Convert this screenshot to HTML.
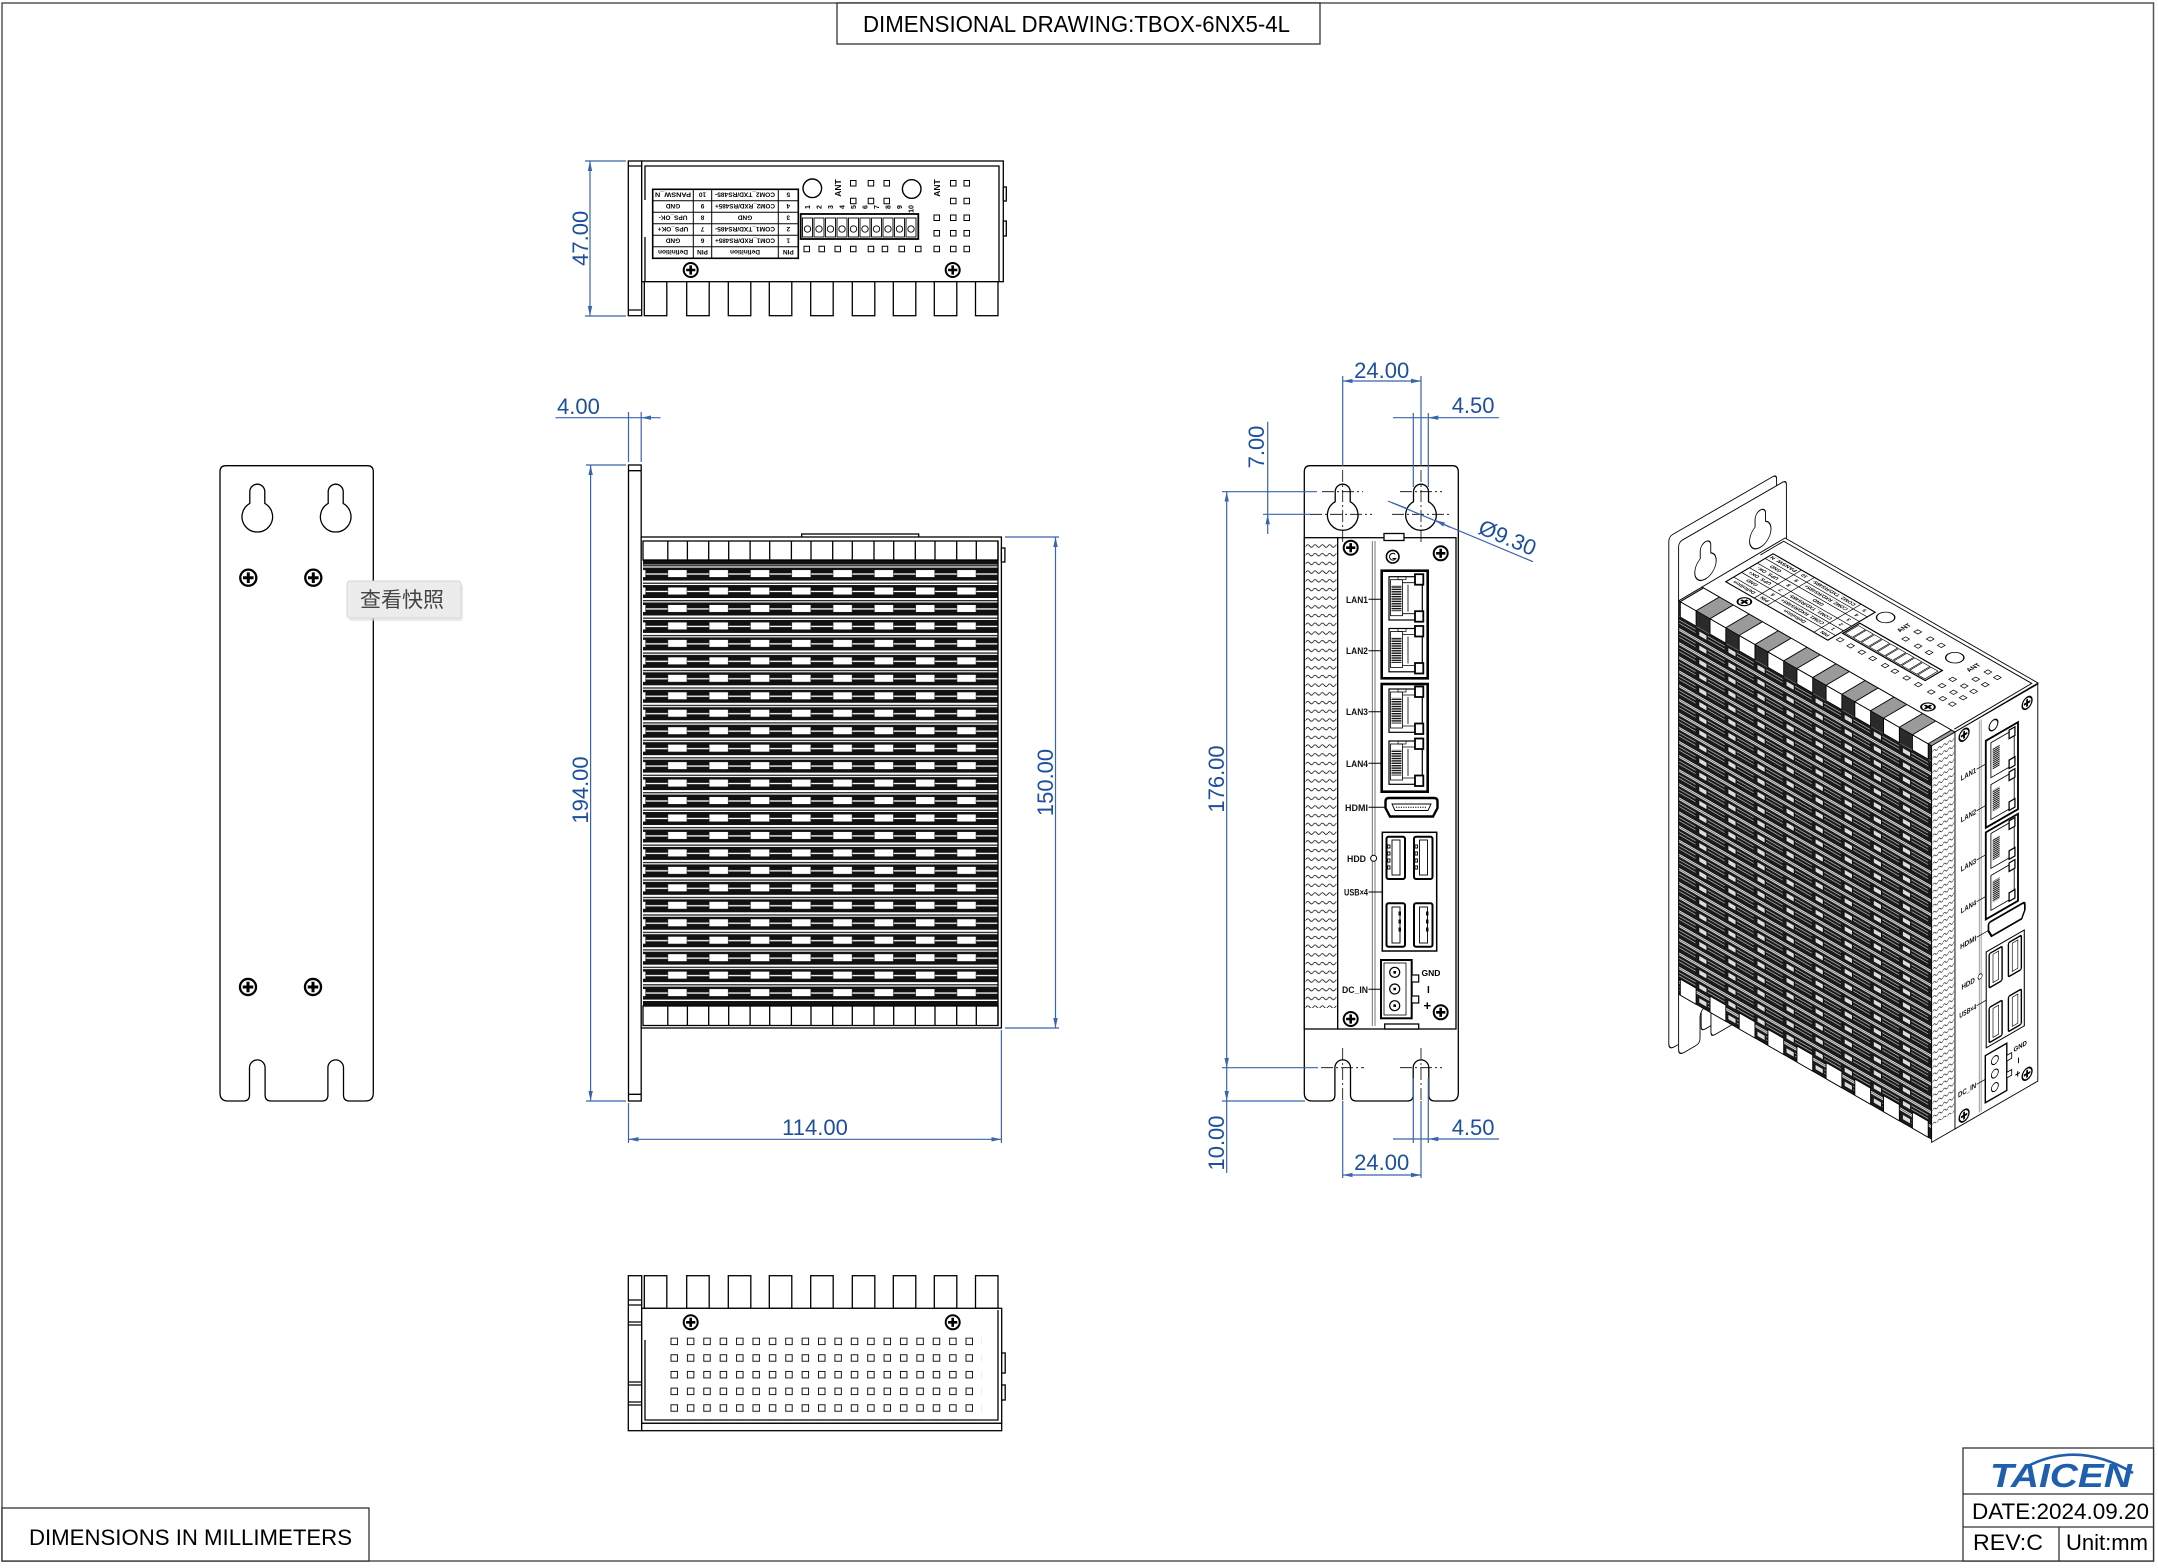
<!DOCTYPE html>
<html><head><meta charset="utf-8"><style>
html,body{margin:0;padding:0;background:#fff;}
svg{display:block;font-family:"Liberation Sans",Arial,sans-serif;}
.k{fill:none;stroke:#000;stroke-width:1.3}
.w{fill:#fff;stroke:#000;stroke-width:1.3}
.b{fill:none;stroke:#3a64ad;stroke-width:1.2}
.bt{fill:#1d4f9b;font-size:22px}
.cl{fill:none;stroke:#000;stroke-width:0.8;stroke-dasharray:12 3 2 3}
.lb{font-size:9.5px;font-weight:bold;fill:#111;text-anchor:end}
.tt{font-size:6.5px;font-weight:bold;fill:#000;text-anchor:middle}
</style></head><body>
<svg width="2158" height="1568" viewBox="0 0 2158 1568" xmlns="http://www.w3.org/2000/svg">
<defs>
<marker id="ar" viewBox="0 0 10 6" refX="10" refY="3" markerWidth="10" markerHeight="6" markerUnits="userSpaceOnUse" orient="auto-start-reverse"><path d="M0,0.8 L10,3 L0,5.2z" fill="#3a64ad"/></marker>
<g id="scr"><circle r="7" fill="#fff" stroke="#000" stroke-width="2"/><path d="M-1.3,-4.6h2.6v3.3h3.3v2.6h-3.3v3.3h-2.6v-3.3h-3.3v-2.6h3.3z" fill="#000"/></g>
<pattern id="rows" patternUnits="userSpaceOnUse" x="647.8" y="564.57" width="41.3" height="17.46">
<rect width="41.3" height="17.46" fill="#fff"/>
<rect y="0.6" width="41.3" height="1.2" fill="#111"/>
<rect y="3" width="41.3" height="13" fill="#111"/>
<rect y="8.8" width="41.3" height="1.3" fill="#fff"/>
<rect x="20" y="5.2" width="19.2" height="7.6" fill="#fff" stroke="#111" stroke-width="0.5"/>
</pattern>
<pattern id="wave" patternUnits="userSpaceOnUse" x="1306" y="543" width="7.3" height="8.7">
<path d="M0,3 q1.8,-2.6 3.65,0 t3.65,0" fill="none" stroke="#000" stroke-width="0.8"/>
</pattern>
<pattern id="hs" patternUnits="userSpaceOnUse" x="0" y="0" width="10" height="2.4">
<rect width="10" height="1.4" fill="#111"/>
</pattern>
<pattern id="sq" patternUnits="userSpaceOnUse" x="670.5" y="1337.6" width="16.39" height="16.67">
<rect x="0.5" y="0.5" width="6.5" height="6.5" fill="none" stroke="#000" stroke-width="0.9"/>
</pattern>
<pattern id="isoFin" patternUnits="userSpaceOnUse" x="642" y="560" width="41.5" height="17.46">
<rect width="41.5" height="17.46" fill="#fff"/>
<rect y="0.3" width="41.5" height="14.2" fill="#1a1a1a"/>
<rect y="4" width="24" height="0.7" fill="#fff"/>
<rect y="8" width="24" height="0.7" fill="#fff"/>
<rect x="29" y="4" width="11" height="6" fill="#ddd" stroke="#000" stroke-width="0.6"/>
<rect y="15.6" width="41.5" height="0.9" fill="#333"/>
</pattern>
</defs>

<rect x="0" y="0" width="2158" height="1568" fill="#fff"/>
<!-- page border -->
<rect x="2" y="3" width="2151.5" height="1558" fill="none" stroke="#555" stroke-width="1.5"/>

<!-- title -->
<rect x="837" y="3" width="483" height="41" fill="#fff" stroke="#333" stroke-width="1.3"/>
<text x="863" y="32" font-size="23" fill="#000" textLength="427" lengthAdjust="spacingAndGlyphs">DIMENSIONAL DRAWING:TBOX-6NX5-4L</text>

<!-- bottom-left box -->
<rect x="2" y="1508" width="367" height="53" fill="#fff" stroke="#333" stroke-width="1.3"/>
<text x="29" y="1545" font-size="22" fill="#000" textLength="323" lengthAdjust="spacingAndGlyphs">DIMENSIONS IN MILLIMETERS</text>

<!-- title block -->
<rect x="1963" y="1448" width="190.5" height="113" fill="#fff" stroke="#333" stroke-width="1.3"/>
<path d="M1963,1494H2153.5M1963,1527H2153.5M2059,1527V1561" stroke="#333" stroke-width="1.3" fill="none"/>
<path d="M2030,1465 Q2080,1441 2133,1473" fill="none" stroke="#1f5fae" stroke-width="2.6"/>
<text x="1990" y="1487" font-size="33" font-weight="bold" font-style="italic" fill="#1f5fae" textLength="142" lengthAdjust="spacingAndGlyphs">TAICEN</text>
<text x="1972" y="1519" font-size="22" fill="#000" textLength="177" lengthAdjust="spacingAndGlyphs">DATE:2024.09.20</text>
<text x="1973" y="1550" font-size="22" fill="#000" textLength="70" lengthAdjust="spacingAndGlyphs">REV:C</text>
<text x="2066" y="1550" font-size="22" fill="#000" textLength="82" lengthAdjust="spacingAndGlyphs">Unit:mm</text>

<!-- ============ LEFT BRACKET VIEW ============ -->
<path class="w" d="M220,471.7Q220,465.7 226,465.7H367.3Q373.3,465.7 373.3,471.7V1093Q373.3,1101 365.3,1101H349.5Q343.5,1101 343.5,1095V1067.7A7.8,7.8 0 0 0 327.9,1067.7V1095Q327.9,1101 321.9,1101H271.1Q265.1,1101 265.1,1095V1067.7A7.8,7.8 0 0 0 249.5,1067.7V1095Q249.5,1101 243.5,1101H228Q220,1101 220,1093Z"/>
<path class="k" d="M249.8,491.7A7.5,7.5 0 0 1 264.8,491.7V503.4A15.3,15.3 0 1 1 249.8,503.4ZM328.2,491.7A7.5,7.5 0 0 1 343.2,491.7V503.4A15.3,15.3 0 1 1 328.2,503.4Z"/>
<use href="#scr" transform="translate(248.3,577.7) scale(1.15)"/>
<use href="#scr" transform="translate(313.3,577.7) scale(1.15)"/>
<use href="#scr" transform="translate(248,987) scale(1.15)"/>
<use href="#scr" transform="translate(313,987) scale(1.15)"/>
<!-- tooltip -->
<rect x="349" y="584" width="114" height="37" rx="3" fill="#dcdcdc" opacity="0.6"/>
<rect x="347" y="581" width="114" height="37" rx="3" fill="#ececec" stroke="#d6d6d6"/>
<text x="360" y="607" font-size="21" fill="#444" style="font-family:'Liberation Sans','Noto Sans CJK SC',sans-serif">查看快照</text>

<!-- ============ TOP VIEW ============ -->
<rect class="w" x="628.3" y="161" width="13.4" height="154.7"/>
<path class="k" d="M628.3,166H641.7M628.3,310H641.7"/>
<rect class="w" x="641.7" y="161" width="361.6" height="120.7"/>
<path class="k" stroke-width="0.9" d="M645,200V166H999V282M645,237V282"/>
<rect class="w" x="1003.3" y="187" width="3" height="14"/>
<rect class="w" x="1003.3" y="221" width="3" height="15"/>
<g class="w">
<rect x="644.3" y="281.7" width="22.5" height="34"/><rect x="686.7" y="281.7" width="22.5" height="34"/><rect x="728.3" y="281.7" width="22.5" height="34"/><rect x="769.3" y="281.7" width="22.5" height="34"/><rect x="810.7" y="281.7" width="22.5" height="34"/><rect x="852.3" y="281.7" width="22.5" height="34"/><rect x="893.3" y="281.7" width="22.5" height="34"/><rect x="934.3" y="281.7" width="22.5" height="34"/><rect x="975.5" y="281.7" width="22.5" height="34"/>
</g>
<g id="topc">
<g transform="rotate(180 725.5 223.8)">
<rect x="652.7" y="189.3" width="145.6" height="69" fill="#fff" stroke="#000" stroke-width="1.6"/>
<path d="M652.7,200.8H798.3M652.7,212.3H798.3M652.7,223.8H798.3M652.7,235.3H798.3M652.7,246.8H798.3M672.7,189.3V258.3M739.3,189.3V258.3M757.7,189.3V258.3" stroke="#000" stroke-width="1" fill="none"/>
<g class="tt">
<text x="662.7" y="197.5">PIN</text><text x="706" y="197.5">Definition</text><text x="748.5" y="197.5">PIN</text><text x="778" y="197.5">Definition</text>
<text x="662.7" y="209">1</text><text x="706" y="209" textLength="60" lengthAdjust="spacingAndGlyphs">COM1_RXD/RS485+</text><text x="748.5" y="209">6</text><text x="778" y="209">GND</text>
<text x="662.7" y="220.5">2</text><text x="706" y="220.5" textLength="60" lengthAdjust="spacingAndGlyphs">COM1_TXD/RS485-</text><text x="748.5" y="220.5">7</text><text x="778" y="220.5">UPS_OK+</text>
<text x="662.7" y="232">3</text><text x="706" y="232">GND</text><text x="748.5" y="232">8</text><text x="778" y="232">UPS_OK-</text>
<text x="662.7" y="243.5">4</text><text x="706" y="243.5" textLength="60" lengthAdjust="spacingAndGlyphs">COM2_RXD/RS485+</text><text x="748.5" y="243.5">9</text><text x="778" y="243.5">GND</text>
<text x="662.7" y="255">5</text><text x="706" y="255" textLength="60" lengthAdjust="spacingAndGlyphs">COM2_TXD/RS485-</text><text x="748.5" y="255">10</text><text x="778" y="255" textLength="36" lengthAdjust="spacingAndGlyphs">PANSW_N</text>
</g>
</g>
<circle cx="812.3" cy="188.3" r="9.3" fill="#fff" stroke="#000" stroke-width="1.4"/>
<circle cx="911.7" cy="189" r="9.3" fill="#fff" stroke="#000" stroke-width="1.4"/>
<text transform="translate(841,188) rotate(-90)" font-size="8.5" font-weight="bold" text-anchor="middle">ANT</text>
<text transform="translate(940,188) rotate(-90)" font-size="8.5" font-weight="bold" text-anchor="middle">ANT</text>
<rect x="800.7" y="214" width="117.6" height="25" fill="#fff" stroke="#000" stroke-width="1.8"/>
<g fill="#fff" stroke="#000" stroke-width="0.9">
<rect x="802.5" y="218" width="10" height="19"/><rect x="814" y="218" width="10" height="19"/><rect x="825.5" y="218" width="10" height="19"/><rect x="837" y="218" width="10" height="19"/><rect x="848.5" y="218" width="10" height="19"/><rect x="860" y="218" width="10" height="19"/><rect x="871.5" y="218" width="10" height="19"/><rect x="883" y="218" width="10" height="19"/><rect x="894.5" y="218" width="10" height="19"/><rect x="906" y="218" width="10" height="19"/>
<circle cx="807.5" cy="229" r="3.2"/><circle cx="819" cy="229" r="3.2"/><circle cx="830.5" cy="229" r="3.2"/><circle cx="842" cy="229" r="3.2"/><circle cx="853.5" cy="229" r="3.2"/><circle cx="865" cy="229" r="3.2"/><circle cx="876.5" cy="229" r="3.2"/><circle cx="888" cy="229" r="3.2"/><circle cx="899.5" cy="229" r="3.2"/><circle cx="911" cy="229" r="3.2"/>
</g>
<g font-size="7" font-weight="bold" text-anchor="middle">
<text transform="translate(810,207) rotate(-90)">1</text><text transform="translate(821.5,207) rotate(-90)">2</text><text transform="translate(833,207) rotate(-90)">3</text><text transform="translate(844.5,207) rotate(-90)">4</text><text transform="translate(856,207) rotate(-90)">5</text><text transform="translate(867.5,207) rotate(-90)">6</text><text transform="translate(879,207) rotate(-90)">7</text><text transform="translate(890.5,207) rotate(-90)">8</text><text transform="translate(902,207) rotate(-90)">9</text><text transform="translate(913.5,209) rotate(-90)">10</text>
</g>
<path fill="none" stroke="#000" stroke-width="1" d="M850.5,180.5h5.5v5.5h-5.5zM868.2,180.5h5.5v5.5h-5.5zM884,180.5h5.5v5.5h-5.5zM950.5,180.5h5.5v5.5h-5.5zM964,180.5h5.5v5.5h-5.5zM850.5,198.2h5.5v5.5h-5.5zM868.2,198.2h5.5v5.5h-5.5zM884,198.2h5.5v5.5h-5.5zM950.5,198.2h5.5v5.5h-5.5zM964,198.2h5.5v5.5h-5.5zM934,215h5.5v5.5h-5.5zM950.5,215h5.5v5.5h-5.5zM964,215h5.5v5.5h-5.5zM934,230.5h5.5v5.5h-5.5zM950.5,230.5h5.5v5.5h-5.5zM964,230.5h5.5v5.5h-5.5zM804,246.2h5.5v5.5h-5.5zM819,246.2h5.5v5.5h-5.5zM835,246.2h5.5v5.5h-5.5zM850.5,246.2h5.5v5.5h-5.5zM868.2,246.2h5.5v5.5h-5.5zM882.2,246.2h5.5v5.5h-5.5zM899,246.2h5.5v5.5h-5.5zM915.5,246.2h5.5v5.5h-5.5zM934,246.2h5.5v5.5h-5.5zM950.5,246.2h5.5v5.5h-5.5zM964,246.2h5.5v5.5h-5.5z"/>
<use href="#scr" x="690.7" y="270"/>
<use href="#scr" x="952.7" y="270"/>
</g>

<!-- ============ SIDE VIEW (main) ============ -->
<rect class="w" x="628.5" y="465" width="12.7" height="636"/>
<path class="k" d="M628.5,470.7H641.2M628.5,1094.3H641.2"/>
<rect class="w" x="801.7" y="534" width="117" height="3.5"/>
<rect class="w" x="641.2" y="537" width="360.2" height="491"/>
<rect x="643" y="564.57" width="355" height="436.5" fill="url(#rows)"/>
<rect x="643" y="560" width="355" height="4.6" fill="#111"/>
<rect x="643" y="1001" width="355" height="5" fill="#111"/>
<rect class="w" x="643" y="541" width="355" height="19"/>
<rect class="w" x="643" y="1006" width="355" height="19.5"/>
<path class="k" stroke-width="1" d="M667.8,541V560M687.4,541V560M708.7,541V560M728.7,541V560M750.1,541V560M769.7,541V560M791.4,541V560M811,541V560M832.7,541V560M852.3,541V560M874,541V560M893.7,541V560M915.3,541V560M935,541V560M956.7,541V560M976.3,541V560M667.8,1006V1025.5M687.4,1006V1025.5M708.7,1006V1025.5M728.7,1006V1025.5M750.1,1006V1025.5M769.7,1006V1025.5M791.4,1006V1025.5M811,1006V1025.5M832.7,1006V1025.5M852.3,1006V1025.5M874,1006V1025.5M893.7,1006V1025.5M915.3,1006V1025.5M935,1006V1025.5M956.7,1006V1025.5M976.3,1006V1025.5M998,541V1026"/>
<rect class="w" x="1001.4" y="548" width="3.5" height="14"/>

<!-- side view dims -->
<g class="b">
<path d="M555.5,417.7H628.5M660.5,417.7H641.2" marker-end="url(#ar)"/>
<path d="M628.5,417.7H641.2M628.5,412V462M641.2,412V462"/>
<path d="M590.6,465V1101" marker-start="url(#ar)" marker-end="url(#ar)"/>
<path d="M586,465H626M586,1101H626"/>
<path d="M1055.5,537V1028" marker-start="url(#ar)" marker-end="url(#ar)"/>
<path d="M1005,537H1059M1005,1028H1059"/>
<path d="M628.5,1139.3H1001.4" marker-start="url(#ar)" marker-end="url(#ar)"/>
<path d="M628.5,1103V1143M1001.4,1030V1143"/>
<path d="M590,161V316" marker-start="url(#ar)" marker-end="url(#ar)"/>
<path d="M585,161H626M585,316H626"/>
</g>
<g class="bt">
<text x="557" y="414">4.00</text>
<text transform="translate(588,790) rotate(-90)" text-anchor="middle">194.00</text>
<text transform="translate(1053,782.5) rotate(-90)" text-anchor="middle">150.00</text>
<text x="815" y="1135" text-anchor="middle">114.00</text>
<text transform="translate(588,238.3) rotate(-90)" text-anchor="middle">47.00</text>
</g>

<!-- ============ BOTTOM VIEW ============ -->
<rect class="w" x="628.3" y="1275.7" width="13.4" height="155"/>
<path class="k" stroke-width="1" d="M628.3,1300H641.7M628.3,1305H641.7M628.3,1322H641.7M628.3,1325H641.7M628.3,1382H641.7M628.3,1385H641.7M628.3,1402H641.7M628.3,1405H641.7"/>
<g class="w">
<rect x="644.3" y="1275.7" width="22.5" height="32.6"/><rect x="686.7" y="1275.7" width="22.5" height="32.6"/><rect x="728.3" y="1275.7" width="22.5" height="32.6"/><rect x="769.3" y="1275.7" width="22.5" height="32.6"/><rect x="810.7" y="1275.7" width="22.5" height="32.6"/><rect x="852.3" y="1275.7" width="22.5" height="32.6"/><rect x="893.3" y="1275.7" width="22.5" height="32.6"/><rect x="934.3" y="1275.7" width="22.5" height="32.6"/><rect x="975.5" y="1275.7" width="22.5" height="32.6"/>
</g>
<rect class="w" x="641.7" y="1308.3" width="360" height="115"/>
<rect class="w" x="641.7" y="1423.3" width="360" height="7.4"/>
<path class="k" stroke-width="0.8" d="M645,1340V1420H998V1310"/>
<rect class="w" x="1001.7" y="1353" width="3.5" height="20"/>
<rect class="w" x="1001.7" y="1385" width="3.5" height="15"/>
<use href="#scr" x="690.7" y="1322.3"/>
<use href="#scr" x="952.7" y="1322.3"/>
<rect x="670.5" y="1337.6" width="311.4" height="83.35" fill="url(#sq)"/>

<!-- ============ FRONT VIEW ============ -->
<path class="w" d="M1304.3,471.7Q1304.3,465.7 1310.3,465.7H1452.3Q1458.3,465.7 1458.3,471.7V1093Q1458.3,1101 1450.3,1101H1434.8Q1428.8,1101 1428.8,1095V1067.7A7.8,7.8 0 0 0 1413.2,1067.7V1095Q1413.2,1101 1407.2,1101H1356.5Q1350.5,1101 1350.5,1095V1067.7A7.8,7.8 0 0 0 1334.9,1067.7V1095Q1334.9,1101 1328.9,1101H1312.3Q1304.3,1101 1304.3,1093Z"/>
<path class="k" d="M1335.2,491.7A7.5,7.5 0 0 1 1350.2,491.7V501.7A15.3,15.3 0 1 1 1335.2,501.7ZM1413.5,491.7A7.5,7.5 0 0 1 1428.5,491.7V501.7A15.3,15.3 0 1 1 1413.5,501.7Z"/>
<g id="finstrip">
<rect class="w" x="1304.3" y="537.7" width="33.4" height="491.3"/>
<rect x="1305.5" y="541" width="31" height="467" fill="url(#wave)"/>
</g>
<g id="front">
<rect class="w" x="1337.7" y="537.7" width="118.3" height="491.3"/>
<path d="M1372.3,541V1026M1375,541V1026" stroke="#666" stroke-width="0.9" fill="none"/>
<rect class="w" x="1384" y="533.5" width="20" height="7"/>
<rect class="w" x="1384.7" y="1024" width="34" height="5"/>
<use href="#scr" x="1350.7" y="547.7"/>
<use href="#scr" x="1440.7" y="553.3"/>
<use href="#scr" x="1350.7" y="1019"/>
<use href="#scr" x="1440.7" y="1012.3"/>
<circle cx="1392.7" cy="556.7" r="6.3" fill="#fff" stroke="#000" stroke-width="1.6"/>
<path d="M1395.2,554.2A3.4,3.4 0 1 0 1395.8,558.5H1392.5" fill="none" stroke="#000" stroke-width="1"/>
<rect x="1381.7" y="570.7" width="46" height="107.6" fill="#fff" stroke="#000" stroke-width="2.6"/>
<rect x="1381.7" y="684" width="46" height="107.7" fill="#fff" stroke="#000" stroke-width="2.6"/>
<g transform="translate(0,576.7)">
<rect x="1389" y="0" width="33.3" height="43.3" fill="#fff" stroke="#000" stroke-width="1.2"/>
<rect x="1390.5" y="3" width="12" height="36" fill="none" stroke="#000" stroke-width="0.8"/>
<rect x="1391.5" y="8.5" width="10" height="26" fill="url(#hs)"/>
<path d="M1402.5,6H1415M1402.5,37H1415M1408,8V35" fill="none" stroke="#000" stroke-width="0.8"/>
<rect x="1415" y="-2.5" width="8.3" height="10.5" fill="#fff" stroke="#000" stroke-width="1.8"/>
<rect x="1415" y="34.5" width="8.3" height="10.5" fill="#fff" stroke="#000" stroke-width="1.8"/>
<rect x="1398" y="0" width="8" height="3" fill="none" stroke="#000" stroke-width="0.7"/>
</g>
<g transform="translate(0,628.5)">
<rect x="1389" y="0" width="33.3" height="43.3" fill="#fff" stroke="#000" stroke-width="1.2"/>
<rect x="1390.5" y="3" width="12" height="36" fill="none" stroke="#000" stroke-width="0.8"/>
<rect x="1391.5" y="8.5" width="10" height="26" fill="url(#hs)"/>
<path d="M1402.5,6H1415M1402.5,37H1415M1408,8V35" fill="none" stroke="#000" stroke-width="0.8"/>
<rect x="1415" y="-2.5" width="8.3" height="10.5" fill="#fff" stroke="#000" stroke-width="1.8"/>
<rect x="1415" y="34.5" width="8.3" height="10.5" fill="#fff" stroke="#000" stroke-width="1.8"/>
<rect x="1398" y="0" width="8" height="3" fill="none" stroke="#000" stroke-width="0.7"/>
</g>
<g transform="translate(0,689)">
<rect x="1389" y="0" width="33.3" height="43.3" fill="#fff" stroke="#000" stroke-width="1.2"/>
<rect x="1390.5" y="3" width="12" height="36" fill="none" stroke="#000" stroke-width="0.8"/>
<rect x="1391.5" y="8.5" width="10" height="26" fill="url(#hs)"/>
<path d="M1402.5,6H1415M1402.5,37H1415M1408,8V35" fill="none" stroke="#000" stroke-width="0.8"/>
<rect x="1415" y="-2.5" width="8.3" height="10.5" fill="#fff" stroke="#000" stroke-width="1.8"/>
<rect x="1415" y="34.5" width="8.3" height="10.5" fill="#fff" stroke="#000" stroke-width="1.8"/>
<rect x="1398" y="0" width="8" height="3" fill="none" stroke="#000" stroke-width="0.7"/>
</g>
<g transform="translate(0,741)">
<rect x="1389" y="0" width="33.3" height="43.3" fill="#fff" stroke="#000" stroke-width="1.2"/>
<rect x="1390.5" y="3" width="12" height="36" fill="none" stroke="#000" stroke-width="0.8"/>
<rect x="1391.5" y="8.5" width="10" height="26" fill="url(#hs)"/>
<path d="M1402.5,6H1415M1402.5,37H1415M1408,8V35" fill="none" stroke="#000" stroke-width="0.8"/>
<rect x="1415" y="-2.5" width="8.3" height="10.5" fill="#fff" stroke="#000" stroke-width="1.8"/>
<rect x="1415" y="34.5" width="8.3" height="10.5" fill="#fff" stroke="#000" stroke-width="1.8"/>
<rect x="1398" y="0" width="8" height="3" fill="none" stroke="#000" stroke-width="0.7"/>
</g>
<path d="M1389,798H1434Q1437.5,798 1437.5,801.5V808L1433,816.5H1390L1385.5,808V801.5Q1385.5,798 1389,798Z" fill="#fff" stroke="#000" stroke-width="2.4"/>
<path d="M1392,804H1431L1428,810.5H1395Z" fill="none" stroke="#000" stroke-width="0.9"/>
<path d="M1396,807.3H1427" stroke="#000" stroke-width="1" stroke-dasharray="1.2 1.2"/>
<rect x="1382.3" y="832.3" width="54.4" height="118.7" fill="#fff" stroke="#000" stroke-width="1.5"/>
<g fill="#fff" stroke="#000" stroke-width="2">
<rect x="1386.5" y="836.7" width="18.5" height="42.3" rx="2"/>
<rect x="1414" y="836.7" width="18.5" height="42.3" rx="2"/>
<rect x="1386.5" y="903.3" width="18.5" height="43.4" rx="2"/>
<rect x="1414" y="903.3" width="18.5" height="43.4" rx="2"/>
</g>
<g fill="none" stroke="#000" stroke-width="0.9">
<rect x="1392" y="840" width="8" height="35"/><rect x="1419.5" y="840" width="8" height="35"/>
<rect x="1392" y="907" width="8" height="36"/><rect x="1419.5" y="907" width="8" height="36"/>
<path d="M1387.5,845h2.5v3h-2.5zM1387.5,852h2.5v3h-2.5zM1387.5,859h2.5v3h-2.5zM1387.5,866h2.5v3h-2.5zM1415,845h2.5v3h-2.5zM1415,852h2.5v3h-2.5zM1415,859h2.5v3h-2.5zM1415,866h2.5v3h-2.5zM1399,912h1.5v3h-1.5zM1399,920h1.5v3h-1.5zM1399,928h1.5v3h-1.5zM1426.5,912h1.5v3h-1.5zM1426.5,920h1.5v3h-1.5zM1426.5,928h1.5v3h-1.5z"/>
</g>
<rect x="1381" y="960" width="30.7" height="58.3" fill="#fff" stroke="#000" stroke-width="2"/>
<rect x="1384" y="963" width="22" height="52" fill="none" stroke="#000" stroke-width="0.8"/>
<g fill="#fff" stroke="#000" stroke-width="1.2">
<circle cx="1394.7" cy="972.3" r="5"/><circle cx="1394.7" cy="989" r="5"/><circle cx="1394.7" cy="1005.7" r="5"/>
<rect x="1411.7" y="975" width="7" height="7"/><rect x="1411.7" y="996" width="7" height="7"/>
</g>
<path d="M1393.4,971h2.6v2.6h-2.6zM1393.4,987.7h2.6v2.6h-2.6zM1393.4,1004.4h2.6v2.6h-2.6z" fill="#000"/>
<text x="1421.5" y="976" font-size="8.5" font-weight="bold">GND</text>
<text x="1427" y="993" font-size="10" font-weight="bold">I</text>
<text x="1423.5" y="1010" font-size="13" font-weight="bold">+</text>
<g class="lb">
<text x="1368" y="602.8" textLength="22" lengthAdjust="spacingAndGlyphs">LAN1</text>
<text x="1368" y="654.2" textLength="22" lengthAdjust="spacingAndGlyphs">LAN2</text>
<text x="1368" y="715.2" textLength="22" lengthAdjust="spacingAndGlyphs">LAN3</text>
<text x="1368" y="766.8" textLength="22" lengthAdjust="spacingAndGlyphs">LAN4</text>
<text x="1368" y="810.8" textLength="23" lengthAdjust="spacingAndGlyphs">HDMI</text>
<text x="1366" y="861.8" textLength="19" lengthAdjust="spacingAndGlyphs">HDD</text>
<text x="1368" y="895.5" textLength="24" lengthAdjust="spacingAndGlyphs">USB×4</text>
<text x="1368" y="992.8" textLength="26" lengthAdjust="spacingAndGlyphs">DC_IN</text>
</g>
<path d="M1368.5,599.3H1381.7M1368.5,650.7H1381.7M1368.5,711.7H1381.7M1368.5,763.3H1381.7M1368.5,807.3H1386M1368.5,892H1382.3M1368.5,989.3H1381" stroke="#000" stroke-width="1" fill="none"/>
<circle cx="1373.6" cy="858.3" r="3" fill="#fff" stroke="#000" stroke-width="1"/>
</g>

<!-- front view center lines -->
<path class="cl" d="M1322,491.7H1363M1400,491.7H1442M1310,514.3H1372M1392,514.3H1450M1342.7,470V545M1421,470V545M1321,1067.7H1364M1400,1067.7H1442M1342.7,1048V1100M1421,1048V1100"/>

<!-- front view dims -->
<g class="b">
<path d="M1226.7,491.7V1068" marker-start="url(#ar)" marker-end="url(#ar)"/>
<path d="M1222,491.7H1317M1222,1067.7H1318M1222,1101H1305"/>
<path d="M1226.7,1068V1101" marker-end="url(#ar)"/>
<path d="M1226.7,1101V1173"/>
<path d="M1267.7,421.7V491.7M1267.7,534V514.3" marker-end="url(#ar)"/>
<path d="M1267.7,491.7V514.3M1263,514.3H1310"/>
<path d="M1342.7,381H1421" marker-start="url(#ar)" marker-end="url(#ar)"/>
<path d="M1342.7,376V466M1421,376V466"/>
<path d="M1393,417.7H1413.3M1499,417.7H1428.3" marker-end="url(#ar)"/>
<path d="M1413.3,417.7H1428.3M1413.3,413V487M1428.3,413V487"/>
<path d="M1388,501L1533,561.7"/>
<path d="M1392,502.7L1406.9,508.4M1450,527.3L1435.1,520.2" marker-end="url(#ar)"/>
<path d="M1393,1139H1413.3M1499,1139H1428.3" marker-end="url(#ar)"/>
<path d="M1413.3,1139H1428.3M1413.3,1078V1143M1428.3,1078V1143"/>
<path d="M1342.7,1175H1421" marker-start="url(#ar)" marker-end="url(#ar)"/>
<path d="M1342.7,1101V1178M1421,1101V1178"/>
</g>
<g class="bt">
<text x="1381.7" y="378" text-anchor="middle">24.00</text>
<text x="1451.7" y="413">4.50</text>
<text transform="translate(1264,447) rotate(-90)" text-anchor="middle">7.00</text>
<text transform="translate(1477,533) rotate(22.7)">Ø9.30</text>
<text transform="translate(1224,779) rotate(-90)" text-anchor="middle">176.00</text>
<text transform="translate(1224,1143) rotate(-90)" text-anchor="middle">10.00</text>
<text x="1451.7" y="1135">4.50</text>
<text x="1381.7" y="1170" text-anchor="middle">24.00</text>
</g>

<!-- ============ ISOMETRIC VIEW ============ -->
<g transform="matrix(0.7,-0.404,0,0.808,755.8,687.3)">
<path class="w" d="M1304.3,471.7Q1304.3,465.7 1310.3,465.7H1452.3Q1458.3,465.7 1458.3,471.7V1093Q1458.3,1101 1450.3,1101H1434.8Q1428.8,1101 1428.8,1095V1067.7A7.8,7.8 0 0 0 1413.2,1067.7V1095Q1413.2,1101 1407.2,1101H1356.5Q1350.5,1101 1350.5,1095V1067.7A7.8,7.8 0 0 0 1334.9,1067.7V1095Q1334.9,1101 1328.9,1101H1312.3Q1304.3,1101 1304.3,1093Z"/>
</g>
<g transform="matrix(0.7,-0.404,0,0.808,765.6,692.9)">
<path class="w" d="M1304.3,471.7Q1304.3,465.7 1310.3,465.7H1452.3Q1458.3,465.7 1458.3,471.7V1093Q1458.3,1101 1450.3,1101H1434.8Q1428.8,1101 1428.8,1095V1067.7A7.8,7.8 0 0 0 1413.2,1067.7V1095Q1413.2,1101 1407.2,1101H1356.5Q1350.5,1101 1350.5,1095V1067.7A7.8,7.8 0 0 0 1334.9,1067.7V1095Q1334.9,1101 1328.9,1101H1312.3Q1304.3,1101 1304.3,1093Z"/>
<path class="k" d="M1335.2,491.7A7.5,7.5 0 0 1 1350.2,491.7V501.7A15.3,15.3 0 1 1 1335.2,501.7ZM1413.5,491.7A7.5,7.5 0 0 1 1428.5,491.7V501.7A15.3,15.3 0 1 1 1413.5,501.7Z"/>
</g>
<!-- fin face -->
<g transform="matrix(0.7008,0.4017,0,0.808,1228.8,-94.2)">
<rect x="642" y="541" width="361" height="487" fill="url(#isoFin)" stroke="#000" stroke-width="1.2"/>
<rect x="642" y="541" width="361" height="19" fill="#2a2a2a"/>
<g class="w">
<rect x="644.3" y="541" width="22.5" height="19"/><rect x="686.7" y="541" width="22.5" height="19"/><rect x="728.3" y="541" width="22.5" height="19"/><rect x="769.3" y="541" width="22.5" height="19"/><rect x="810.7" y="541" width="22.5" height="19"/><rect x="852.3" y="541" width="22.5" height="19"/><rect x="893.3" y="541" width="22.5" height="19"/><rect x="934.3" y="541" width="22.5" height="19"/><rect x="975.5" y="541" width="22.5" height="19"/>
<rect x="644.3" y="1008" width="22.5" height="20"/><rect x="686.7" y="1008" width="22.5" height="20"/><rect x="728.3" y="1008" width="22.5" height="20"/><rect x="769.3" y="1008" width="22.5" height="20"/><rect x="810.7" y="1008" width="22.5" height="20"/><rect x="852.3" y="1008" width="22.5" height="20"/><rect x="893.3" y="1008" width="22.5" height="20"/><rect x="934.3" y="1008" width="22.5" height="20"/><rect x="975.5" y="1008" width="22.5" height="20"/>
</g>
</g>
<!-- fin front strip -->
<g transform="matrix(0.7,-0.404,0,0.808,1018.6,837.9)">
<rect class="w" x="1304.3" y="537.7" width="33.4" height="491.3"/>
<rect x="1305.5" y="541" width="31" height="467" fill="url(#wave)"/>
</g>
<!-- top face -->
<g transform="matrix(0.7008,0.4017,-0.686,0.405,1445.55,214.9)">
<rect x="642" y="282" width="361" height="34" fill="#9a9a9a" stroke="#000" stroke-width="1.2"/>
<g class="w">
<rect x="644.3" y="282" width="22.5" height="34"/><rect x="686.7" y="282" width="22.5" height="34"/><rect x="728.3" y="282" width="22.5" height="34"/><rect x="769.3" y="282" width="22.5" height="34"/><rect x="810.7" y="282" width="22.5" height="34"/><rect x="852.3" y="282" width="22.5" height="34"/><rect x="893.3" y="282" width="22.5" height="34"/><rect x="934.3" y="282" width="22.5" height="34"/><rect x="975.5" y="282" width="22.5" height="34"/>
</g>
<rect class="w" x="642" y="161" width="361" height="121"/>
<path class="k" stroke-width="0.9" d="M645,200V166H999V279"/>
<g transform="rotate(180 725.5 223.8)">
<rect x="652.7" y="189.3" width="145.6" height="69" fill="#fff" stroke="#000" stroke-width="1.6"/>
<path d="M652.7,200.8H798.3M652.7,212.3H798.3M652.7,223.8H798.3M652.7,235.3H798.3M652.7,246.8H798.3M672.7,189.3V258.3M739.3,189.3V258.3M757.7,189.3V258.3" stroke="#000" stroke-width="1" fill="none"/>
<g class="tt">
<text x="662.7" y="197.5">PIN</text><text x="706" y="197.5">Definition</text><text x="748.5" y="197.5">PIN</text><text x="778" y="197.5">Definition</text>
<text x="662.7" y="209">1</text><text x="706" y="209" textLength="60" lengthAdjust="spacingAndGlyphs">COM1_RXD/RS485+</text><text x="748.5" y="209">6</text><text x="778" y="209">GND</text>
<text x="662.7" y="220.5">2</text><text x="706" y="220.5" textLength="60" lengthAdjust="spacingAndGlyphs">COM1_TXD/RS485-</text><text x="748.5" y="220.5">7</text><text x="778" y="220.5">UPS_OK+</text>
<text x="662.7" y="232">3</text><text x="706" y="232">GND</text><text x="748.5" y="232">8</text><text x="778" y="232">UPS_OK-</text>
<text x="662.7" y="243.5">4</text><text x="706" y="243.5" textLength="60" lengthAdjust="spacingAndGlyphs">COM2_RXD/RS485+</text><text x="748.5" y="243.5">9</text><text x="778" y="243.5">GND</text>
<text x="662.7" y="255">5</text><text x="706" y="255" textLength="60" lengthAdjust="spacingAndGlyphs">COM2_TXD/RS485-</text><text x="748.5" y="255">10</text><text x="778" y="255" textLength="36" lengthAdjust="spacingAndGlyphs">PANSW_N</text>
</g>
</g>
<circle cx="812.3" cy="188.3" r="9.3" fill="#fff" stroke="#000" stroke-width="1.4"/>
<circle cx="911.7" cy="189" r="9.3" fill="#fff" stroke="#000" stroke-width="1.4"/>
<text transform="translate(841,188) rotate(-90)" font-size="8.5" font-weight="bold" text-anchor="middle">ANT</text>
<text transform="translate(940,188) rotate(-90)" font-size="8.5" font-weight="bold" text-anchor="middle">ANT</text>
<rect x="800.7" y="214" width="117.6" height="25" fill="#fff" stroke="#000" stroke-width="1.8"/>
<g fill="#fff" stroke="#000" stroke-width="0.9">
<rect x="802.5" y="218" width="10" height="19"/><rect x="814" y="218" width="10" height="19"/><rect x="825.5" y="218" width="10" height="19"/><rect x="837" y="218" width="10" height="19"/><rect x="848.5" y="218" width="10" height="19"/><rect x="860" y="218" width="10" height="19"/><rect x="871.5" y="218" width="10" height="19"/><rect x="883" y="218" width="10" height="19"/><rect x="894.5" y="218" width="10" height="19"/><rect x="906" y="218" width="10" height="19"/>
</g>
<path fill="none" stroke="#000" stroke-width="1" d="M850.5,180.5h5.5v5.5h-5.5zM868.2,180.5h5.5v5.5h-5.5zM884,180.5h5.5v5.5h-5.5zM950.5,180.5h5.5v5.5h-5.5zM964,180.5h5.5v5.5h-5.5zM850.5,198.2h5.5v5.5h-5.5zM868.2,198.2h5.5v5.5h-5.5zM884,198.2h5.5v5.5h-5.5zM950.5,198.2h5.5v5.5h-5.5zM964,198.2h5.5v5.5h-5.5zM934,215h5.5v5.5h-5.5zM950.5,215h5.5v5.5h-5.5zM964,215h5.5v5.5h-5.5zM934,230.5h5.5v5.5h-5.5zM950.5,230.5h5.5v5.5h-5.5zM964,230.5h5.5v5.5h-5.5zM804,246.2h5.5v5.5h-5.5zM819,246.2h5.5v5.5h-5.5zM835,246.2h5.5v5.5h-5.5zM850.5,246.2h5.5v5.5h-5.5zM868.2,246.2h5.5v5.5h-5.5zM882.2,246.2h5.5v5.5h-5.5zM899,246.2h5.5v5.5h-5.5zM915.5,246.2h5.5v5.5h-5.5zM934,246.2h5.5v5.5h-5.5zM950.5,246.2h5.5v5.5h-5.5zM964,246.2h5.5v5.5h-5.5z"/>
<use href="#scr" x="690.7" y="270"/>
<use href="#scr" x="952.7" y="270"/>
</g>
<!-- front panel in iso -->
<g transform="matrix(0.7,-0.404,0,0.808,1018.6,837.9)">
<rect class="w" x="1337.7" y="537.7" width="118.3" height="491.3"/>
<path d="M1372.3,541V1026M1375,541V1026" stroke="#666" stroke-width="0.9" fill="none"/>
<use href="#scr" x="1350.7" y="547.7"/>
<use href="#scr" x="1440.7" y="553.3"/>
<use href="#scr" x="1350.7" y="1019"/>
<use href="#scr" x="1440.7" y="1012.3"/>
<circle cx="1392.7" cy="556.7" r="6.3" fill="#fff" stroke="#000" stroke-width="1.6"/>
<rect x="1381.7" y="570.7" width="46" height="107.6" fill="#fff" stroke="#000" stroke-width="2.6"/>
<rect x="1381.7" y="684" width="46" height="107.7" fill="#fff" stroke="#000" stroke-width="2.6"/>
<g fill="#fff" stroke="#000" stroke-width="1.2">
<rect x="1389" y="576.7" width="33.3" height="43.3"/><rect x="1389" y="628.5" width="33.3" height="43.3"/><rect x="1389" y="689" width="33.3" height="43.3"/><rect x="1389" y="741" width="33.3" height="43.3"/>
</g>
<g fill="url(#hs)">
<rect x="1391.5" y="585.2" width="10" height="26"/><rect x="1391.5" y="637" width="10" height="26"/><rect x="1391.5" y="697.5" width="10" height="26"/><rect x="1391.5" y="749.5" width="10" height="26"/>
</g>
<g fill="#fff" stroke="#000" stroke-width="1.8">
<rect x="1415" y="574.2" width="8.3" height="10.5"/><rect x="1415" y="611.2" width="8.3" height="10.5"/><rect x="1415" y="626" width="8.3" height="10.5"/><rect x="1415" y="663" width="8.3" height="10.5"/><rect x="1415" y="686.5" width="8.3" height="10.5"/><rect x="1415" y="723.5" width="8.3" height="10.5"/><rect x="1415" y="738.5" width="8.3" height="10.5"/><rect x="1415" y="775.5" width="8.3" height="10.5"/>
</g>
<path d="M1389,798H1434Q1437.5,798 1437.5,801.5V808L1433,816.5H1390L1385.5,808V801.5Q1385.5,798 1389,798Z" fill="#fff" stroke="#000" stroke-width="2.4"/>
<rect x="1382.3" y="832.3" width="54.4" height="118.7" fill="#fff" stroke="#000" stroke-width="1.5"/>
<g fill="#fff" stroke="#000" stroke-width="2">
<rect x="1386.5" y="836.7" width="18.5" height="42.3" rx="2"/><rect x="1414" y="836.7" width="18.5" height="42.3" rx="2"/><rect x="1386.5" y="903.3" width="18.5" height="43.4" rx="2"/><rect x="1414" y="903.3" width="18.5" height="43.4" rx="2"/>
</g>
<g fill="none" stroke="#000" stroke-width="0.9">
<rect x="1392" y="840" width="8" height="35"/><rect x="1419.5" y="840" width="8" height="35"/><rect x="1392" y="907" width="8" height="36"/><rect x="1419.5" y="907" width="8" height="36"/>
</g>
<rect x="1381" y="960" width="30.7" height="58.3" fill="#fff" stroke="#000" stroke-width="2"/>
<g fill="#fff" stroke="#000" stroke-width="1.2">
<circle cx="1394.7" cy="972.3" r="5"/><circle cx="1394.7" cy="989" r="5"/><circle cx="1394.7" cy="1005.7" r="5"/>
<rect x="1411.7" y="975" width="7" height="7"/><rect x="1411.7" y="996" width="7" height="7"/>
</g>
<text x="1421.5" y="976" font-size="8.5" font-weight="bold">GND</text>
<text x="1427" y="993" font-size="10" font-weight="bold">I</text>
<text x="1423.5" y="1010" font-size="13" font-weight="bold">+</text>
<g class="lb">
<text x="1368" y="602.8" textLength="22" lengthAdjust="spacingAndGlyphs">LAN1</text>
<text x="1368" y="654.2" textLength="22" lengthAdjust="spacingAndGlyphs">LAN2</text>
<text x="1368" y="715.2" textLength="22" lengthAdjust="spacingAndGlyphs">LAN3</text>
<text x="1368" y="766.8" textLength="22" lengthAdjust="spacingAndGlyphs">LAN4</text>
<text x="1368" y="810.8" textLength="23" lengthAdjust="spacingAndGlyphs">HDMI</text>
<text x="1366" y="861.8" textLength="19" lengthAdjust="spacingAndGlyphs">HDD</text>
<text x="1368" y="895.5" textLength="24" lengthAdjust="spacingAndGlyphs">USB×4</text>
<text x="1368" y="992.8" textLength="26" lengthAdjust="spacingAndGlyphs">DC_IN</text>
</g>
<path d="M1368.5,599.3H1381.7M1368.5,650.7H1381.7M1368.5,711.7H1381.7M1368.5,763.3H1381.7M1368.5,807.3H1386M1368.5,892H1382.3M1368.5,989.3H1381" stroke="#000" stroke-width="1" fill="none"/>
<circle cx="1373.6" cy="858.3" r="3" fill="#fff" stroke="#000" stroke-width="1"/>
</g>
</svg>
</body></html>
